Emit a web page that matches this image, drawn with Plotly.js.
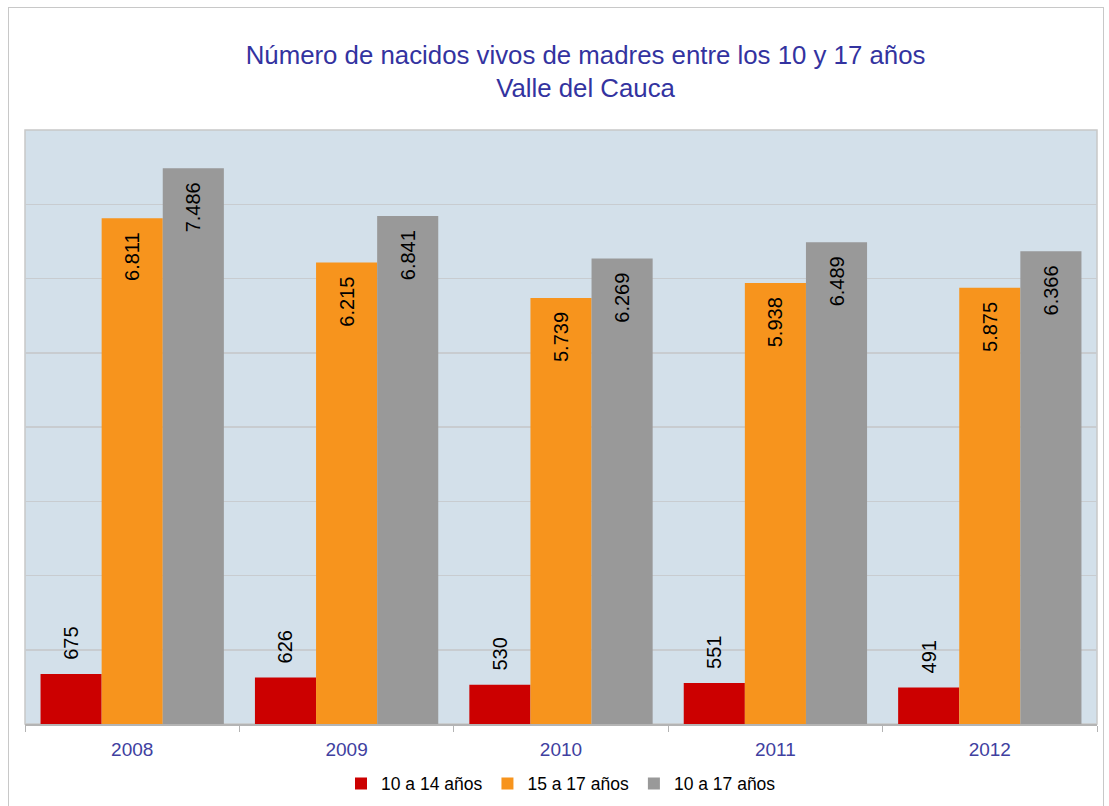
<!DOCTYPE html>
<html>
<head>
<meta charset="utf-8">
<script src="https://cdn.plot.ly/plotly-3.0.1.min.js"></script>
<style>
html,body{margin:0;padding:0;background:#fff;}
#wrap{position:relative;width:1109px;height:806px;overflow:hidden;}
#chart{position:absolute;left:0;top:0;width:1109px;height:806px;}
#frame{position:absolute;left:8px;top:7px;width:1094px;height:820px;border:1px solid #c8c8c8;pointer-events:none;}
</style>
</head>
<body>
<div id="wrap"><div id="chart"></div><div id="frame"></div></div>
<script>
const years = ["2008", "2009", "2010", "2011", "2012"];
const seriesNames = ["10 a 14 años", "15 a 17 años", "10 a 17 años"];
const v10a14 = [675, 626, 530, 551, 491];
const v15a17 = [6811, 6215, 5739, 5938, 5875];
const v10a17 = [7486, 6841, 6269, 6489, 6366];
const titleLines = ["Número de nacidos vivos de madres entre los 10 y 17 años", "Valle del Cauca"];

const colors = ["#cc0000", "#f7941d", "#999999"];
const font = "Liberation Sans, Arial, sans-serif";
const lblSize = 20;

function mk(vals, i, pos, tmpl) {
  return {
    type: "bar", x: years, y: vals, name: seriesNames[i],
    marker: {color: colors[i]},
    texttemplate: tmpl, textposition: pos, textangle: -90,
    insidetextanchor: "end", constraintext: "none", cliponaxis: false,
    textfont: {family: font, size: lblSize, color: "#000"},
    outsidetextfont: {family: font, size: lblSize, color: "#000"},
    insidetextfont: {family: font, size: lblSize, color: "#000"},
    hoverinfo: "x+y"
  };
}

const data = [
  mk(v10a14, 0, "outside", "  %{y:,}"),
  mk(v15a17, 1, "inside", "%{y:,}  "),
  mk(v10a17, 2, "inside", "%{y:,}  ")
];

const layout = {
  width: 1109, height: 806,
  margin: {l: 25, r: 12, t: 130, b: 82, autoexpand: false},
  paper_bgcolor: "#ffffff", plot_bgcolor: "#d3e0ea",
  separators: ",.",
  font: {family: font, size: 16, color: "#000"},
  title: {text: titleLines.join("<br>"), x: 0.528, xanchor: "center", yref: "container", y: 0.921, yanchor: "middle",
          font: {family: font, size: 25.8, color: "#3333a0"}},
  barmode: "group", bargap: 0.145, bargroupgap: 0,
  xaxis: {type: "category", showgrid: false, zeroline: false, showline: true, linecolor: "#b4b4b4", linewidth: 1.5,
          ticks: "outside", tickson: "boundaries", ticklen: 6, tickcolor: "#b4b4b4", tickwidth: 1,
          ticklabelstandoff: 8,
          tickfont: {family: font, size: 19, color: "#4040a0"}},
  yaxis: {range: [0, 8000], dtick: 1000, showgrid: true, gridcolor: "#c8ccd0", gridwidth: 1.5,
          showticklabels: false, zeroline: false, showline: false, fixedrange: true},
  legend: {orientation: "h", x: 0.5, xanchor: "center", y: -0.07, yanchor: "top",
           font: {family: font, size: 17.5, color: "#000"}, itemwidth: 30, traceorder: "normal"},
  shapes: [{type: "rect", xref: "paper", yref: "paper", x0: 0, x1: 1, y0: 0, y1: 1,
            line: {color: "#c8c8c8", width: 1.5}, fillcolor: "rgba(0,0,0,0)", layer: "below"}]
};

Plotly.newPlot("chart", data, layout, {displayModeBar: false, staticPlot: true});
</script>
</body>
</html>
